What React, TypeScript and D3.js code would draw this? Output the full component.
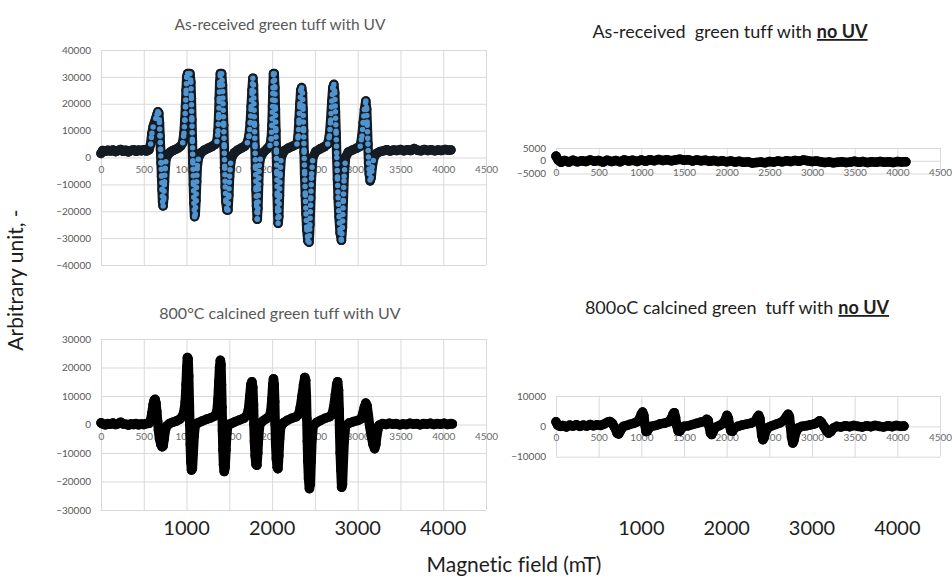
import React, { useEffect, useRef } from 'react';
import * as d3 from 'd3';

type Pt = [number, number];

// shared x ticks of every panel (channel / field axis)
const xTicks = [0, 500, 1000, 1500, 2000, 2500, 3000, 3500, 4000, 4500];
const bigXLabels = [1000, 2000, 3000, 4000];

// y ticks per panel
const yTicksAsUv = [-40000, -30000, -20000, -10000, 0, 10000, 20000, 30000, 40000];
const yTicksAsNoUv = [-5000, 0, 5000];
const yTicksCalUv = [-30000, -20000, -10000, 0, 10000, 20000, 30000];
const yTicksCalNoUv = [-10000, 0, 10000];

// As-received green tuff with UV
const asReceivedUv: Pt[] = [
  [0, 1500], [20, 2600], [50, 2300], [80, 2700], [110, 2400], [140, 2800], [170, 2200], [200, 2600],
  [230, 3000], [260, 2300], [290, 2700], [320, 2100], [350, 2600], [380, 2900], [410, 2300], [440, 2800],
  [470, 2500], [500, 2900], [530, 2400], [560, 2800], [580, 5000], [595, 9000], [610, 11500], [625, 13000],
  [640, 14500], [655, 16000], [665, 17000], [675, 16500], [683, 13000], [690, 8000], [696, 3000], [702, -2000],
  [708, -7000], [714, -12000], [720, -16500], [726, -18000], [734, -15000], [742, -9000], [750, -4000], [760, -500],
  [780, 1000], [810, 2000], [840, 2600], [870, 3000], [900, 3500], [930, 4200], [955, 5500], [970, 9000],
  [980, 14000], [988, 19000], [995, 25000], [1002, 30000], [1012, 31200], [1025, 31200], [1040, 31200], [1050, 28000],
  [1056, 22000], [1062, 14000], [1068, 6000], [1074, -2000], [1080, -10000], [1086, -17000], [1094, -22000], [1102, -21000],
  [1110, -16000], [1118, -9000], [1126, -3000], [1140, 0], [1170, 1800], [1210, 2800], [1250, 3400], [1290, 4000],
  [1330, 4800], [1355, 6000], [1368, 10000], [1376, 16000], [1382, 22000], [1388, 28000], [1395, 31200], [1410, 31200],
  [1420, 27000], [1427, 20000], [1434, 12000], [1440, 4000], [1446, -4000], [1452, -11000], [1460, -16500], [1472, -19500],
  [1484, -19500], [1494, -14000], [1503, -7000], [1515, -2000], [1530, 200], [1560, 1800], [1600, 2800], [1640, 3500],
  [1680, 4200], [1710, 5500], [1730, 8000], [1745, 13000], [1755, 19000], [1765, 25000], [1775, 29500], [1782, 27000],
  [1788, 20000], [1794, 12000], [1800, 4000], [1806, -4000], [1812, -12000], [1818, -18000], [1826, -23000], [1834, -19000],
  [1842, -10000], [1850, -3000], [1865, 0], [1900, 2000], [1940, 3200], [1975, 4500], [1990, 7000], [1998, 12000],
  [2005, 19000], [2010, 26000], [2016, 31200], [2025, 31200], [2032, 26000], [2038, 18000], [2044, 10000], [2050, 2000],
  [2055, -6000], [2060, -14000], [2065, -20000], [2070, -24500], [2078, -22000], [2086, -14000], [2094, -6000], [2106, 0],
  [2140, 2500], [2190, 3500], [2240, 4200], [2290, 5000], [2305, 8000], [2315, 14000], [2325, 20000], [2335, 25000],
  [2345, 26000], [2355, 24000], [2362, 18000], [2368, 10000], [2374, 2000], [2380, -6000], [2388, -14000], [2396, -21000],
  [2406, -27000], [2418, -31000], [2432, -31500], [2442, -25000], [2452, -15000], [2462, -6000], [2476, 0], [2510, 2200],
  [2560, 3200], [2610, 4000], [2650, 5000], [2670, 8000], [2685, 14000], [2698, 21000], [2710, 26000], [2722, 27200],
  [2732, 24000], [2740, 17000], [2748, 9000], [2756, 0], [2764, -8000], [2772, -15000], [2782, -22000], [2795, -28000],
  [2810, -30800], [2822, -26000], [2832, -16000], [2842, -7000], [2858, 0], [2890, 2000], [2940, 2800], [2990, 3500],
  [3030, 4200], [3050, 8000], [3065, 13000], [3080, 18000], [3095, 21000], [3105, 18000], [3112, 12000], [3120, 5000],
  [3128, -2000], [3136, -6000], [3146, -8700], [3158, -7500], [3170, -3500], [3190, 0], [3220, 1500], [3260, 2200],
  [3300, 2500], [3340, 2900], [3380, 2400], [3420, 2800], [3460, 2600], [3500, 3000], [3540, 2500], [3580, 2900],
  [3620, 2600], [3660, 3300], [3700, 2700], [3740, 2500], [3780, 3000], [3820, 2600], [3860, 2900], [3900, 2500],
  [3940, 2800], [3980, 2600], [4020, 3000], [4060, 2700], [4090, 2800],
];

// As-received green tuff with no UV
const asReceivedNoUv: Pt[] = [
  [0, 1800], [25, 300], [60, -600], [100, 100], [150, -500], [200, 200], [250, -400], [300, 0],
  [350, -300], [400, 300], [450, -200], [500, 100], [550, -500], [600, 200], [650, -300], [700, 100],
  [750, -400], [800, 300], [850, -100], [900, 200], [950, -300], [1000, 300], [1050, -200], [1100, 400],
  [1150, 0], [1200, 500], [1250, 100], [1300, 400], [1350, 0], [1400, 300], [1450, 600], [1500, 200],
  [1550, 400], [1600, -100], [1650, 300], [1700, 0], [1750, 200], [1800, -200], [1850, 100], [1900, -300],
  [1950, 0], [2000, -400], [2050, -100], [2100, -500], [2150, -200], [2200, -600], [2250, -400], [2300, -900],
  [2350, -700], [2400, -500], [2450, -800], [2500, -300], [2550, -500], [2600, -100], [2650, -400], [2700, 0],
  [2750, -300], [2800, 100], [2850, -200], [2900, 300], [2950, 0], [3000, -300], [3050, -100], [3100, -400],
  [3150, -700], [3200, -500], [3250, -800], [3300, -600], [3350, -400], [3400, -700], [3450, -500], [3500, -200],
  [3550, -600], [3600, -300], [3650, -700], [3700, -400], [3750, -600], [3800, -300], [3850, -600], [3900, -400],
  [3950, -700], [4000, -300], [4050, -500], [4100, -400],
];

// 800 oC calcined green tuff with UV
const calcinedUv: Pt[] = [
  [0, 600], [20, 200], [50, -100], [80, 300], [110, 100], [140, 500], [170, 0], [200, 300],
  [230, 800], [260, 200], [290, 100], [320, -200], [350, 200], [380, 0], [410, 300], [440, -100],
  [470, 200], [500, 0], [530, 300], [560, 400], [580, 1500], [595, 4000], [610, 7000], [622, 8500],
  [632, 8800], [642, 7500], [652, 4500], [662, 1000], [672, -2000], [684, -5000], [700, -7000], [714, -7800],
  [726, -7500], [738, -5000], [752, -2000], [770, -500], [800, 300], [840, 800], [880, 1200], [920, 1800],
  [950, 2800], [970, 4500], [985, 8000], [995, 14000], [1003, 20000], [1010, 23500], [1018, 23000], [1025, 17000],
  [1032, 8000], [1038, 0], [1044, -7000], [1050, -13000], [1058, -16000], [1068, -15500], [1078, -10000], [1088, -4000],
  [1100, -500], [1130, 500], [1180, 1200], [1230, 1800], [1280, 2300], [1330, 3000], [1355, 4500], [1368, 9000],
  [1378, 15000], [1386, 20000], [1395, 22500], [1402, 21000], [1408, 14000], [1414, 6000], [1420, -2000], [1426, -9000],
  [1432, -14000], [1440, -16500], [1450, -15000], [1460, -9000], [1470, -3000], [1484, 0], [1520, 300], [1570, 1000],
  [1620, 1600], [1670, 2200], [1705, 3200], [1725, 5500], [1740, 10000], [1752, 14000], [1764, 15000], [1774, 13000],
  [1782, 7000], [1788, 0], [1794, -6000], [1802, -11000], [1812, -14000], [1822, -14300], [1832, -10000], [1842, -4000],
  [1856, 0], [1890, 1200], [1930, 2000], [1965, 2700], [1985, 4500], [1998, 9000], [2008, 14000], [2016, 16000],
  [2024, 14000], [2030, 8000], [2036, 0], [2042, -7000], [2050, -12000], [2060, -15000], [2068, -15500], [2078, -11000],
  [2088, -5000], [2100, -1000], [2130, 500], [2180, 1500], [2230, 2200], [2280, 2700], [2310, 3500], [2330, 6000],
  [2350, 10000], [2368, 14000], [2382, 16500], [2392, 15500], [2400, 10000], [2406, 2000], [2412, -6000], [2418, -13000],
  [2426, -19000], [2436, -22500], [2446, -21000], [2456, -13000], [2466, -5000], [2480, -500], [2520, 700], [2570, 1500],
  [2620, 2200], [2670, 2700], [2700, 3500], [2720, 6000], [2740, 10500], [2755, 14000], [2766, 15000], [2776, 12000],
  [2784, 5000], [2790, -3000], [2796, -10000], [2804, -16000], [2813, -22000], [2822, -21000], [2832, -13000], [2842, -6000],
  [2858, -500], [2900, 500], [2950, 1000], [3000, 1400], [3040, 2000], [3060, 3800], [3078, 6000], [3095, 7500],
  [3110, 6500], [3125, 3000], [3140, -500], [3160, -4000], [3180, -7000], [3198, -8500], [3212, -7000], [3228, -3000],
  [3250, -300], [3290, 300], [3330, 0], [3370, 400], [3410, 100], [3450, 300], [3490, -100], [3530, 200],
  [3570, 0], [3610, 400], [3650, 100], [3690, 300], [3730, -100], [3770, 300], [3810, 100], [3850, 400],
  [3890, 0], [3930, 300], [3970, 100], [4010, 400], [4050, 0], [4090, 300], [4106, 200],
];

// 800 oC calcined green tuff with no UV
const calcinedNoUv: Pt[] = [
  [0, 1500], [20, 400], [50, 0], [80, 300], [120, -200], [160, 400], [200, 100], [240, 500],
  [280, 0], [320, 400], [360, 100], [400, 600], [440, 200], [480, 500], [520, 300], [560, 700],
  [600, 1300], [630, 1600], [660, 1000], [690, -500], [715, -2200], [735, -2500], [760, -1200], [790, 0],
  [830, 300], [870, 700], [910, 1000], [950, 1500], [980, 2500], [1000, 4000], [1015, 4700], [1030, 3500],
  [1042, 500], [1055, -1700], [1070, -1500], [1090, -600], [1120, 0], [1170, 300], [1220, 800], [1270, 1000],
  [1320, 1500], [1350, 2500], [1372, 4000], [1386, 4500], [1400, 3000], [1415, 300], [1432, -1500], [1448, -1600],
  [1470, -700], [1500, 0], [1550, 200], [1600, 600], [1650, 1000], [1700, 1400], [1740, 1600], [1765, 2300],
  [1782, 2000], [1795, 0], [1810, -2200], [1825, -2700], [1845, -1500], [1870, -300], [1910, 200], [1950, 800],
  [1985, 2200], [2004, 3600], [2020, 2600], [2035, 200], [2050, -1500], [2068, -1600], [2090, -600], [2130, 0],
  [2180, 400], [2230, 700], [2280, 1000], [2330, 1600], [2360, 3000], [2375, 3600], [2390, 2500], [2400, 0],
  [2412, -3000], [2425, -4400], [2440, -3500], [2460, -1500], [2490, -300], [2530, 200], [2580, 700], [2630, 1200],
  [2670, 2000], [2700, 3200], [2720, 4000], [2735, 3200], [2748, 0], [2760, -3500], [2775, -5500], [2790, -4500],
  [2810, -2000], [2840, -500], [2880, 0], [2930, 200], [2980, 500], [3030, 800], [3070, 1400], [3090, 1800],
  [3110, 1300], [3140, 0], [3170, -1500], [3195, -2200], [3220, -1700], [3250, -600], [3290, 0], [3340, -200],
  [3390, 200], [3440, -100], [3490, 300], [3540, 0], [3590, -200], [3640, 200], [3690, -100], [3740, 300],
  [3790, 0], [3840, -200], [3890, 200], [3940, -100], [3990, 300], [4040, 0], [4078, 100],
];

interface TitlePart { text: string; strong?: boolean; gap?: number }

interface Panel {
  data: Pt[];
  yTicks: number[];
  left: number; right: number; top: number; bottom: number;
  title: TitlePart[];
  titleX: number; titleY: number; titleSize: number; titleColor: string;
  blue?: boolean;
  bigLabels?: boolean;
}

const panels: Panel[] = [
  {
    data: asReceivedUv, yTicks: yTicksAsUv,
    left: 101, right: 486, top: 50, bottom: 265,
    title: [{ text: 'As-received green tuff with UV' }],
    titleX: 280, titleY: 30, titleSize: 15.5, titleColor: '#595959', blue: true,
  },
  {
    data: asReceivedNoUv, yTicks: yTicksAsNoUv,
    left: 556, right: 940, top: 148, bottom: 173.5,
    title: [{ text: 'As-received' }, { text: 'green tuff with', gap: 9 }, { text: 'no UV', strong: true, gap: 5 }],
    titleX: 730, titleY: 38, titleSize: 18, titleColor: '#1e1e1e',
  },
  {
    data: calcinedUv, yTicks: yTicksCalUv,
    left: 101, right: 486, top: 339, bottom: 510,
    title: [{ text: '800°C calcined green tuff with UV' }],
    titleX: 280, titleY: 319, titleSize: 16, titleColor: '#595959', bigLabels: true,
  },
  {
    data: calcinedNoUv, yTicks: yTicksCalNoUv,
    left: 556, right: 940, top: 396, bottom: 456.7,
    title: [{ text: '800oC calcined green' }, { text: 'tuff with', gap: 9 }, { text: 'no UV', strong: true, gap: 5 }],
    titleX: 737, titleY: 314, titleSize: 18, titleColor: '#1e1e1e', bigLabels: true,
  },
];

const FONT = "Lato, 'Open Sans', sans-serif";

const App: React.FC = () => {
  const svgRef = useRef<SVGSVGElement>(null);

  useEffect(() => {
    if (!svgRef.current) return;
    document.body.style.margin = '0';
    const svg = d3.select(svgRef.current);
    svg.selectAll('*').remove();

    panels.forEach((p) => {
      const x = d3.scaleLinear().domain([0, 4500]).range([p.left, p.right]);
      const y = d3.scaleLinear().domain([p.yTicks[0], p.yTicks[p.yTicks.length - 1]]).range([p.bottom, p.top]);
      const g = svg.append('g');

      // grid
      g.append('g')
        .attr('transform', `translate(0,${p.bottom})`)
        .call(d3.axisBottom(x).tickValues(xTicks).tickSize(-(p.bottom - p.top)).tickFormat(() => ''))
        .call((s) => s.select('.domain').remove())
        .call((s) => s.selectAll('line').attr('stroke', '#d9d9d9'));
      g.append('g')
        .attr('transform', `translate(${p.left},0)`)
        .call(d3.axisLeft(y).tickValues(p.yTicks).tickSize(-(p.right - p.left)).tickFormat(() => ''))
        .call((s) => s.select('.domain').remove())
        .call((s) => s.selectAll('line').attr('stroke', '#d9d9d9'));

      // y tick labels
      g.append('g')
        .attr('transform', `translate(${p.left - 10},0)`)
        .call(d3.axisLeft(y).tickValues(p.yTicks).tickSize(0).tickPadding(0).tickFormat(d3.format('d')))
        .call((s) => s.select('.domain').remove())
        .call((s) => s.selectAll('text').attr('fill', '#595959').style('font-family', FONT).style('font-size', '10px'));

      // x tick labels, next to the zero line
      g.append('g')
        .attr('transform', `translate(0,${y(0)})`)
        .call(d3.axisBottom(x).tickValues(xTicks).tickSize(0).tickPadding(8).tickFormat(d3.format('d')))
        .call((s) => s.select('.domain').remove())
        .call((s) => s.selectAll('text').attr('fill', '#6b6b6b').style('font-family', FONT).style('font-size', '10px'));

      // data trace
      const line = d3.line<Pt>().x((d) => x(d[0])).y((d) => y(d[1])).curve(d3.curveLinear);
      const dark = p.blue ? '#141b22' : '#000000';
      g.append('path')
        .datum(p.data)
        .attr('fill', 'none')
        .attr('stroke', dark)
        .attr('stroke-width', 9.5)
        .attr('stroke-linejoin', 'round')
        .attr('stroke-linecap', 'round')
        .attr('d', line);
      g.selectAll('circle.pt')
        .data(p.data)
        .join('circle')
        .attr('class', 'pt')
        .attr('cx', (d) => x(d[0]))
        .attr('cy', (d) => y(d[1]))
        .attr('r', 4.8)
        .attr('fill', dark);

      if (p.blue) {
        // spread-out markers on the steep flanks show their blue fill
        const segs = d3.pairs(p.data).filter(([a, b]) => {
          const dxp = Math.abs(x(b[0]) - x(a[0]));
          const dyp = Math.abs(y(b[1]) - y(a[1]));
          return (dyp > 2.5 * dxp && dyp > 6) || Math.max(Math.abs(a[1]), Math.abs(b[1])) > 15000;
        });
        g.selectAll('line.flank')
          .data(segs)
          .join('line')
          .attr('class', 'flank')
          .attr('x1', (d) => x(d[0][0]))
          .attr('y1', (d) => y(d[0][1]))
          .attr('x2', (d) => x(d[1][0]))
          .attr('y2', (d) => y(d[1][1]))
          .attr('stroke', '#4f93cf')
          .attr('stroke-width', 5.5)
          .attr('stroke-linecap', 'round')
          .attr('stroke-dasharray', '0 6.5');
      }

      // title
      const t = svg.append('text')
        .attr('x', p.titleX)
        .attr('y', p.titleY)
        .attr('text-anchor', 'middle')
        .attr('fill', p.titleColor)
        .style('font-family', FONT)
        .style('font-size', `${p.titleSize}px`)
        .style('font-variant-ligatures', 'none');
      p.title.forEach((part, i) => {
        t.append('tspan')
          .attr('dx', i === 0 ? 0 : part.gap ?? 4)
          .attr('font-weight', part.strong ? 700 : 400)
          .style('text-decoration', part.strong ? 'underline' : 'none')
          .text(part.text);
      });

      if (p.bigLabels) {
        svg.append('g')
          .selectAll('text')
          .data(bigXLabels)
          .join('text')
          .attr('x', (d) => x(d))
          .attr('y', 535)
          .attr('text-anchor', 'middle')
          .attr('fill', '#1e1e1e')
          .style('font-family', FONT)
          .style('font-size', '20px')
          .text((d) => d);
      }
    });

    // shared axis titles
    svg.append('text')
      .attr('transform', 'translate(23,280) rotate(-90)')
      .attr('text-anchor', 'middle')
      .attr('fill', '#1e1e1e')
      .style('font-family', FONT)
      .style('font-size', '21px')
      .style('font-variant-ligatures', 'none')
      .text('Arbitrary unit, -');
    svg.append('text')
      .attr('x', 514)
      .attr('y', 572)
      .attr('text-anchor', 'middle')
      .attr('fill', '#1e1e1e')
      .style('font-family', FONT)
      .style('font-size', '21px')
      .style('font-variant-ligatures', 'none')
      .text('Magnetic field (mT)');
  }, []);

  return (
    <svg
      ref={svgRef}
      width={952}
      height={576}
      style={{ display: 'block', background: '#ffffff' }}
      viewBox="0 0 952 576"
    />
  );
};

export default App;
